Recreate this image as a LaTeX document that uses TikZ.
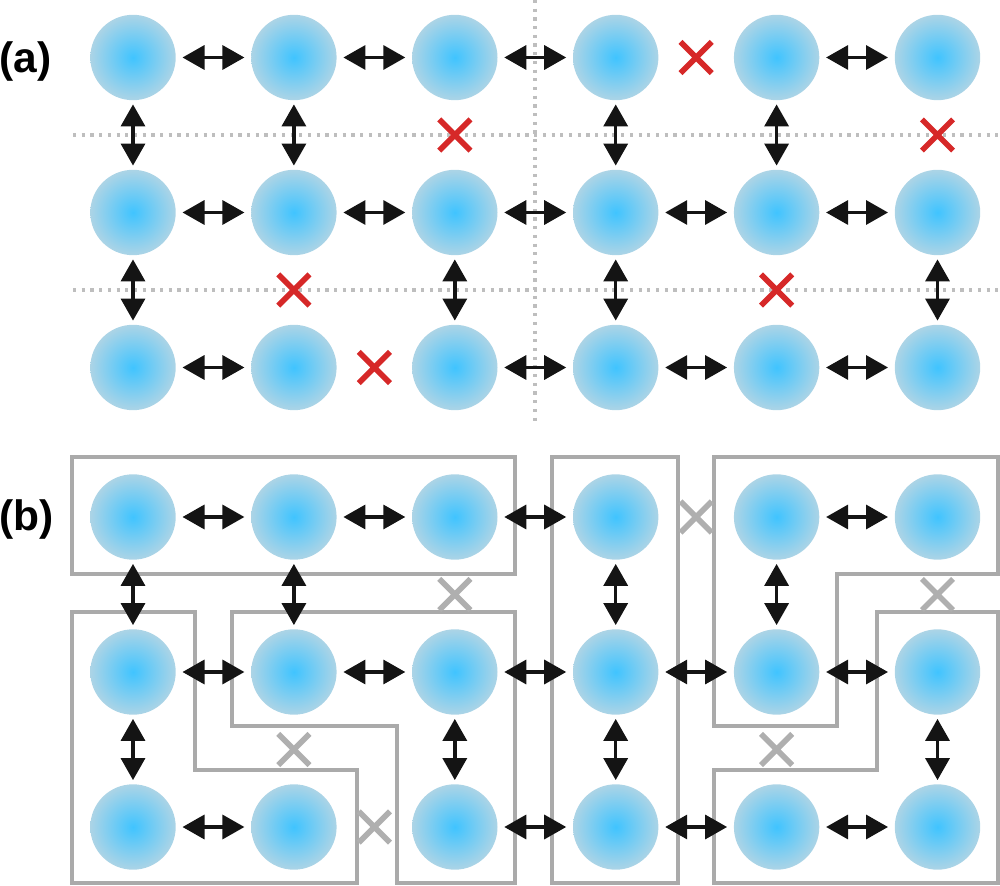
\documentclass[tikz,border=0pt]{standalone}
\usepackage{fontspec}
\setmainfont{Liberation Sans}
\usetikzlibrary{arrows.meta,shapes.misc}

\definecolor{sitein}{RGB}{64,196,255}
\definecolor{siteout}{RGB}{172,212,230}
\definecolor{cutred}{RGB}{214,40,40}
\definecolor{cutgray}{RGB}{175,175,175}
\definecolor{guidegray}{RGB}{190,190,190}
\definecolor{domaingray}{RGB}{170,170,170}

\tikzset{
  site/.style={circle,minimum size=42.7pt,inner sep=0pt,outer sep=0pt,
    inner color=sitein,outer color=siteout},
  link/.style={{Triangle[length=11pt,width=12pt]}-{Triangle[length=11pt,width=12pt]},
    line width=1.7pt,color=black!92},
  hlink/.style={link,shorten <=3.4pt,shorten >=3.4pt},
  vlink/.style={link,shorten <=2.1pt,shorten >=2.1pt},
  cutmark/.style={cross out,draw=#1,line width=2.8pt,minimum size=12.8pt,inner sep=0pt},
  guideline/.style={draw=guidegray,line width=1.6pt,dash pattern=on 1.6pt off 2.75pt},
  domainline/.style={draw=domaingray,line width=1.6pt},
  panel/.style={font=\fontsize{21.25}{25}\selectfont\bfseries,inner sep=0pt,anchor=west}
}

\begin{document}
\begin{tikzpicture}[x=0.5pt,y=-0.5pt]
\useasboundingbox (0,0) rectangle (1000,886);
% cuts of panel (a)
\draw[guideline] (73,135) -- (1000,135);
\draw[guideline] (73,290) -- (1000,290);
\draw[guideline] (535,0) -- (535,423);
% domains of panel (b)
\draw[domainline] (72,457) rectangle (515,574);
\draw[domainline] (552,457) rectangle (678,883);
\draw[domainline] (714,457) -- (998,457) -- (998,574) -- (837,574) -- (837,726) -- (714,726) -- cycle;
\draw[domainline] (714,770) -- (877,770) -- (877,612) -- (998,612) -- (998,883) -- (714,883) -- cycle;
\draw[domainline] (72,612) -- (195,612) -- (195,770) -- (357,770) -- (357,883) -- (72,883) -- cycle;
\draw[domainline] (232,612) -- (515,612) -- (515,883) -- (397,883) -- (397,726) -- (232,726) -- cycle;

\node[panel] (lab-a) at (-1,61.7) {(a)};
\node[panel] (lab-b) at (-1,520) {(b)};

\foreach \p/\top in {a/57.5,b/517} % edit here for the sites
\foreach \r in {1,2,3}
\foreach \c in {1,...,6}
\node[site] (\p\r\c) at ({133+160.9*(\c-1)},{\top+155*(\r-1)}) {};

\foreach \p/\col in {a/cutred,b/cutgray} {
\foreach \s/\t in {11/12,12/13,13/14,15/16,21/22,22/23,23/24,24/25,25/26,31/32,33/34,34/35,35/36}
\draw[hlink] (\p\s) -- (\p\t);
\foreach \s/\t in {11/21,12/22,14/24,15/25,21/31,23/33,24/34,26/36}
\draw[vlink] (\p\s) -- (\p\t);
\foreach \s/\t in {14/15,13/23,16/26,22/32,25/35,32/33} % edit here for the broken links
\path (\p\s) -- (\p\t) node[midway,cutmark=\col] {};
}
\end{tikzpicture}
\end{document}
